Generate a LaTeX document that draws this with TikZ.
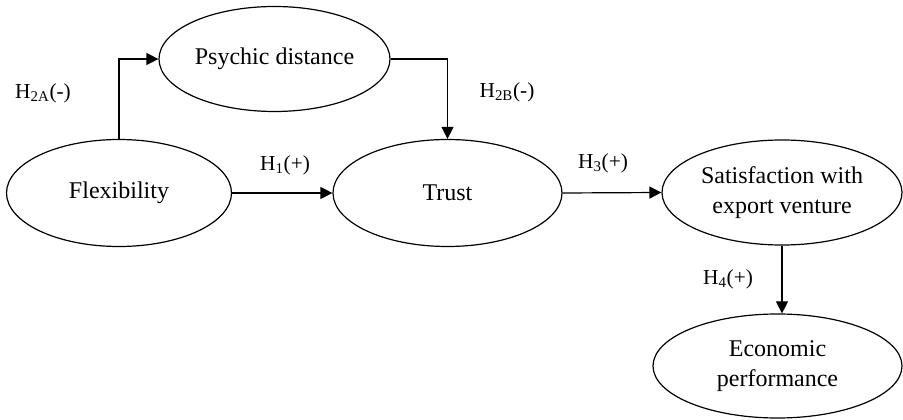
\documentclass[tikz,border=0pt]{standalone}
\usepackage{fontspec}
\setmainfont{Liberation Serif}
\usetikzlibrary{shapes.geometric,arrows.meta}

\tikzset{every picture/.style={line width=0.9pt}}
\tikzset{construct/.style={draw,ellipse,inner sep=0pt,align=center,font=\fontsize{18}{22.5}\selectfont}}
\tikzset{hyp/.style={inner sep=0.75pt,font=\fontsize{16}{19}\selectfont}}
\tikzset{link/.style={-{Triangle[length=9pt,width=9pt]}}}

\begin{document}
\begin{tikzpicture}[x=0.75pt,y=0.75pt,yscale=-1,xscale=1]
\useasboundingbox (0,0) rectangle (903,420);

%Shape: Ellipse
\node[construct,minimum width=225*0.75pt,minimum height=107*0.75pt] (flex) at (119,193) {Flexibility};
%Shape: Ellipse
\node[construct,minimum width=231*0.75pt,minimum height=105*0.75pt] (psych) at (274.5,59) {Psychic distance};
%Shape: Ellipse
\node[construct,minimum width=229*0.75pt,minimum height=107*0.75pt] (trust) at (447.5,193) {Trust};
%Shape: Ellipse
\node[construct,minimum width=240*0.75pt,minimum height=105*0.75pt] (satis) at (782,192.5) {Satisfaction with\\export venture};
%Shape: Ellipse
\node[construct,minimum width=249*0.75pt,minimum height=104*0.75pt] (econ) at (777.5,366) {Economic\\performance};

%Straight Lines
\draw[link] (flex.north) |- (psych.west);
\draw[link] (psych.east) -| (trust.north);
\draw[link] (flex.east) -- (trust.west);
\draw[link] (trust.east) -- (satis.west);
\draw[link] (satis.south) -- (satis.south |- econ.north);

% Text Node
\node[hyp] (h2a) at (43,93) {H\textsubscript{2A}(-)};
% Text Node
\node[hyp] (h1) at (285,165) {H\textsubscript{1}(+)};
% Text Node
\node[hyp] (h2b) at (507,92) {H\textsubscript{2B}(-)};
% Text Node
\node[hyp] (h3) at (603,163) {H\textsubscript{3}(+)};
% Text Node
\node[hyp] (h4) at (728,279) {H\textsubscript{4}(+)};

\end{tikzpicture}
\end{document}
